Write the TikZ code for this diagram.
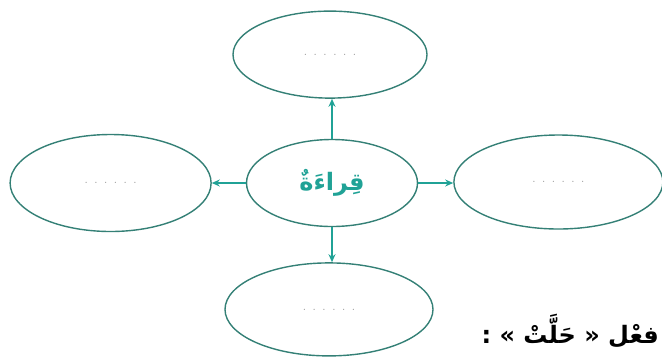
\documentclass[tikz,border=0pt]{standalone}
\usepackage{fontspec}
\TeXXeTstate=1
\newfontfamily\arabicfont[Script=Arabic]{DejaVu Sans}
\usetikzlibrary{%
	positioning,
	arrows.meta,
	shapes.geometric
}
\definecolor{rimteal}{RGB}{52,128,118}
\definecolor{arrteal}{RGB}{32,162,150}

\begin{document}
\begin{tikzpicture}[
		x=1pt,y=1pt,
		SBubble/.style={draw=rimteal,shape=ellipse,line width=1.4pt,inner sep=0pt,fill=white},
		blank/.style={font=\fontsize{15}{15}\selectfont,text=black!40},
		link/.style={draw=arrteal,line width=1.2pt,-{Stealth[length=8pt,width=7pt]}}
	]
	\useasboundingbox (0,0) rectangle (662,-360);
	
		%centre
		\node(reading) [SBubble, minimum width=171pt, minimum height=87pt] at (332,-183) {\arabicfont\fontsize{24}{28}\selectfont\bfseries\color{arrteal}\beginR قِراءَةٌ\endR};
		\node(up) [SBubble, minimum width=194pt, minimum height=87pt, above=40pt of reading, xshift=-2pt, blank] {. . . . . .};
		\node(down) [SBubble, minimum width=208pt, minimum height=93pt, below=35pt of reading, xshift=-3pt, blank] {. . . . . .};
		\node(west) [SBubble, minimum width=201pt, minimum height=97pt, left=34pt of reading, blank] {. . . . . .};
		\node(east) [SBubble, minimum width=209pt, minimum height=94pt, right=35pt of reading, yshift=1pt, blank] {. . . . . .};
		
		\draw [link] (reading.north) to (up.south -| reading.north);
		\draw [link] (reading.south) to (down.north -| reading.south);
		\draw [link] (reading.west) to (west.east |- reading.west);
		\draw [link] (reading.east) to (east.west |- reading.east);
		
		%verb line, cut at the edge
		\node(verb) [anchor=east, inner sep=0pt, font=\arabicfont\fontsize{24}{28}\selectfont\bfseries] at (659,-331) {\beginR فعْل « حَلَّتْ » :\endR};
		
	\end{tikzpicture}
\end{document}
